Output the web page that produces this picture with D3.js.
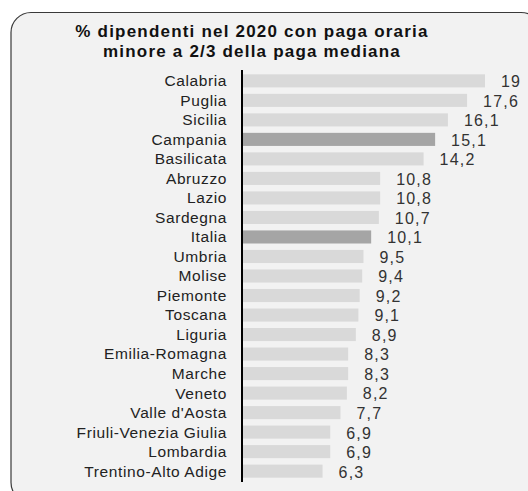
<!DOCTYPE html>
<html><head><meta charset="utf-8">
<script src="https://cdn.jsdelivr.net/npm/d3@7"></script>
<style>
html,body{margin:0;padding:0;background:#fff;}
svg{display:block;}
text{font-family:"Liberation Sans",Arial,sans-serif;}
</style></head>
<body>
<svg id="chart" width="528" height="491"></svg>
<script>
const titleLines = ["% dipendenti nel 2020 con paga oraria", "minore a 2/3 della paga mediana"];
const categories = ["Calabria","Puglia","Sicilia","Campania","Basilicata","Abruzzo","Lazio","Sardegna","Italia","Umbria","Molise","Piemonte","Toscana","Liguria","Emilia-Romagna","Marche","Veneto","Valle d'Aosta","Friuli-Venezia Giulia","Lombardia","Trentino-Alto Adige"];
const values = [19,17.6,16.1,15.1,14.2,10.8,10.8,10.7,10.1,9.5,9.4,9.2,9.1,8.9,8.3,8.3,8.2,7.7,6.9,6.9,6.3];
const highlighted = ["Campania","Italia"];

const svg = d3.select("#chart");
svg.append("rect").attr("x",11).attr("y",12.5).attr("width",530).attr("height",490)
  .attr("rx",20).attr("ry",20).attr("fill","#f2f2f2").attr("stroke","#3a3a3a").attr("stroke-width",1.2);

svg.selectAll("text.title").data(titleLines).join("text").attr("class","title")
  .attr("x",252).attr("y",(d,i)=>37+i*20).attr("text-anchor","middle")
  .attr("font-size",17).attr("font-weight","bold").attr("letter-spacing",1.2).attr("fill","#111")
  .text(d=>d);

const x = d3.scaleLinear().domain([0,19]).range([242,485]);
const y = d3.scaleBand().domain(categories).range([71,481]).paddingInner(0.33).paddingOuter(0.17);

const data = categories.map((c,i)=>({c, v: values[i]}));

svg.selectAll("rect.bar").data(data).join("rect").attr("class","bar")
  .attr("x",x(0)+1).attr("y",d=>y(d.c)).attr("width",d=>x(d.v)-x(0)-1).attr("height",y.bandwidth())
  .attr("fill",d=>highlighted.includes(d.c)?"#a5a5a5":"#d9d9d9");

svg.selectAll("text.val").data(data).join("text").attr("class","val")
  .attr("x",d=>x(d.v)+16).attr("y",d=>y(d.c)+y.bandwidth()/2).attr("dy","0.4em")
  .attr("font-size",16).attr("letter-spacing",1.2).attr("fill","#333")
  .text(d=>String(d.v).replace(".",","));

const axis = d3.axisLeft(y).tickSize(0).tickPadding(15);
const g = svg.append("g").attr("transform",`translate(${x(0)},0)`).call(axis);
g.select(".domain").attr("stroke","#000").attr("stroke-width",2).attr("d","M0,70V482");
g.selectAll(".tick text").attr("font-size",15.5).attr("letter-spacing",0.6)
  .attr("fill","#222").attr("font-family","Liberation Sans, Arial, sans-serif").attr("dy","0.35em");
</script>
</body></html>
